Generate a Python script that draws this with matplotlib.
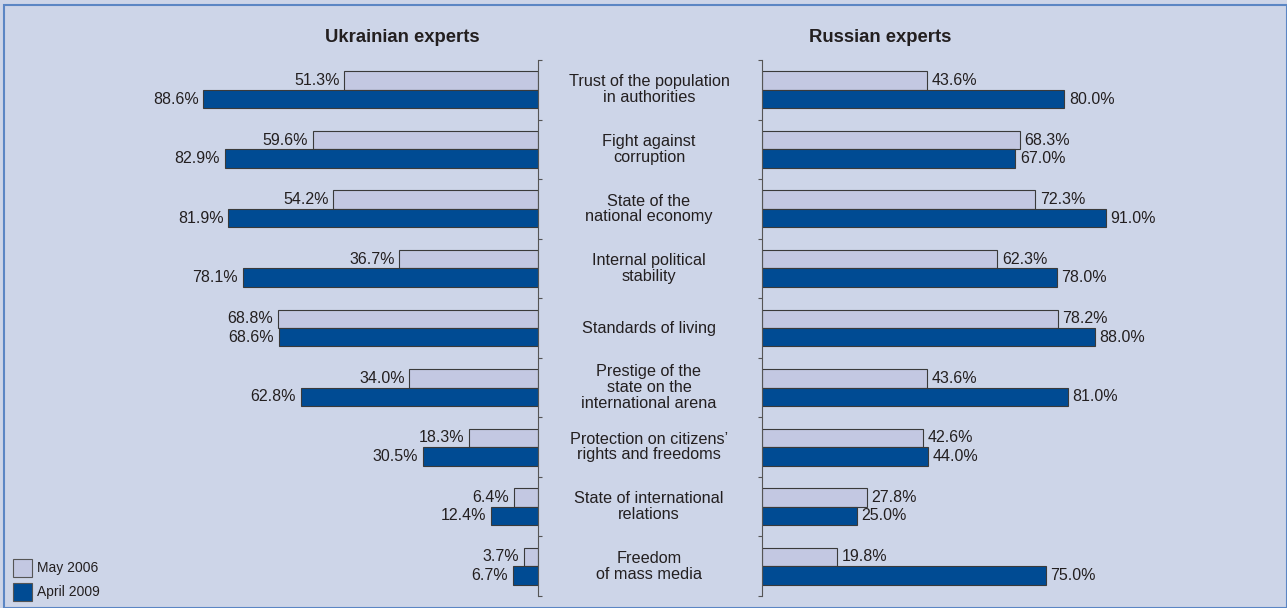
import matplotlib.pyplot as plt
from matplotlib.patches import Rectangle

categories = [
    "Trust of the population\nin authorities",
    "Fight against\ncorruption",
    "State of the\nnational economy",
    "Internal political\nstability",
    "Standards of living",
    "Prestige of the\nstate on the\ninternational arena",
    "Protection on citizens’\nrights and freedoms",
    "State of international\nrelations",
    "Freedom\nof mass media",
]
ukr_2006 = [51.3, 59.6, 54.2, 36.7, 68.8, 34.0, 18.3, 6.4, 3.7]
ukr_2009 = [88.6, 82.9, 81.9, 78.1, 68.6, 62.8, 30.5, 12.4, 6.7]
rus_2006 = [43.6, 68.3, 72.3, 62.3, 78.2, 43.6, 42.6, 27.8, 19.8]
rus_2009 = [80.0, 67.0, 91.0, 78.0, 88.0, 81.0, 44.0, 25.0, 75.0]
series_names = ["May 2006", "April 2009"]

bg = "#cdd5e8"
light = "#c3c8e2"
dark = "#004b93"
edge = "#3a3a3a"
txt = "#231f20"

plt.rcParams['font.family'] = ['Liberation Sans', 'DejaVu Sans']

fig = plt.figure(figsize=(12.87, 6.08), dpi=100, facecolor=bg)
W, H = 1287, 608

# outer frame
fig.patches.append(Rectangle((4 / W, 0), 1 - 4 / W, 1 - 5 / H, transform=fig.transFigure,
                             fill=False, edgecolor="#5b86c4", linewidth=1.5))

bot, top = 1 - 596 / H, 1 - 60 / H
axL = fig.add_axes([160 / W, bot, 378 / W, top - bot])
axR = fig.add_axes([762 / W, bot, 378 / W, top - bot])

y = list(range(len(categories)))
h = 0.31


def draw(ax, s06, s09, side):
    ax.set_facecolor("none")
    ax.barh([v - h / 2 for v in y], s06, height=h, color=light, edgecolor=edge, linewidth=0.8)
    ax.barh([v + h / 2 for v in y], s09, height=h, color=dark, edgecolor=edge, linewidth=0.8)
    ax.set_xlim(0, 100)
    ax.set_ylim(len(y) - 0.5, -0.5)
    for sp in ax.spines.values():
        sp.set_visible(False)
    ax.set_xticks([])
    ax.set_yticks([k - 0.5 for k in range(len(y) + 1)])
    ax.set_yticklabels([])
    ax.tick_params(axis="y", length=3, width=0.8, color="#555555")
    if side == "left":
        ax.invert_xaxis()
        ax.spines["right"].set_visible(True)
        ax.spines["right"].set_color("#555555")
        ax.yaxis.tick_right()
        ha = "right"
    else:
        ax.spines["left"].set_visible(True)
        ax.spines["left"].set_color("#555555")
        ha = "left"
    for i in y:
        for val, dy in ((s06[i], -h / 2), (s09[i], h / 2)):
            ax.text(val + 1.2, i + dy, f"{val:.1f}%", ha=ha, va="center", fontsize=11.5, color=txt)


draw(axL, ukr_2006, ukr_2009, "left")
draw(axR, rus_2006, rus_2009, "right")

# category labels in the middle
for i, c in enumerate(categories):
    yf = top - (i + 0.5) / len(categories) * (top - bot)
    fig.text(649 / W, yf, c, ha="center", va="center", fontsize=11.7, color=txt, linespacing=1.05)

fig.text(402 / W, 1 - 38 / H, "Ukrainian experts", ha="center", va="center",
         fontsize=13.3, fontweight="bold", color=txt)
fig.text(880 / W, 1 - 38 / H, "Russian experts", ha="center", va="center",
         fontsize=13.3, fontweight="bold", color=txt)

# legend
for k, (name, col) in enumerate(zip(series_names, [light, dark])):
    y0 = 1 - (577 + 24 * k) / H
    fig.patches.append(Rectangle((13 / W, y0), 19 / W, 18 / H, transform=fig.transFigure,
                                 facecolor=col, edgecolor="#555555", linewidth=0.8))
    fig.text(37 / W, y0 + 9 / H, name, ha="left", va="center", fontsize=10, color=txt)

fig.savefig("out.png", dpi=100, facecolor=bg)
